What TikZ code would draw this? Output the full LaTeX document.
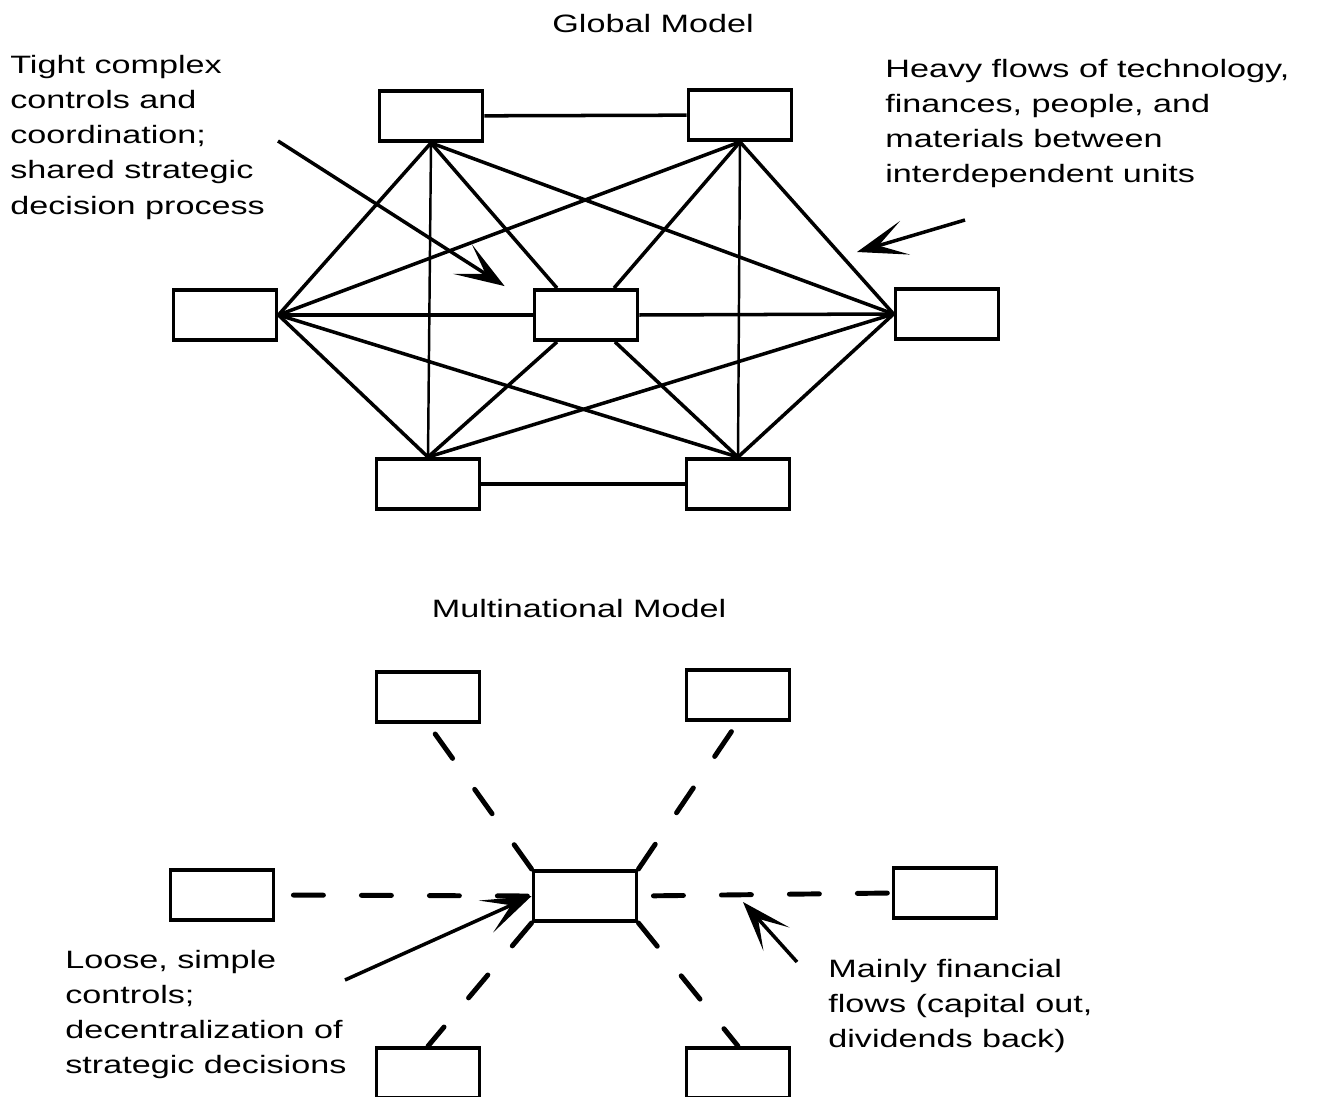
\documentclass[tikz,border=0pt]{standalone}
\usepackage{fontspec}
\setmainfont[FakeStretch=1.36]{Liberation Sans}
\usetikzlibrary{arrows.meta, positioning, calc}

\begin{document}
\begin{tikzpicture}[x=0.02cm, y=-0.02cm,
  unit/.style={draw, line width=2.2pt, fill=white, inner sep=0pt,
               minimum width=2.06cm, minimum height=1cm},
  link/.style={line width=2pt},
  vlink/.style={line width=1.4pt},
  flow/.style={line width=2.8pt, line cap=round,
               dash pattern=on 0.6cm off 0.76cm},
  pointer/.style={line width=2pt,
                  -{Stealth[length=1cm, width=0.7cm, inset=0.55cm]}},
  note/.style={anchor=north west, inner sep=0pt, align=left,
               font=\fontsize{14.3}{20}\selectfont},
  heading/.style={anchor=base, inner sep=0pt,
                  font=\fontsize{14.3}{20}\selectfont}]

\useasboundingbox (0,0) rectangle (1317,1097);

% Global model
\node[heading] (gtitle) at (653,33) {Global Model};
\node[unit] (gtl) at (431,116) {};
\node[unit] (gtr) at (740,115) {};
\node[unit] (gl)  at (225,315) {};
\node[unit] (gc)  at (586,315) {};
\node[unit] (gr)  at (947,314) {};
\node[unit] (gbl) at (428,484) {};
\node[unit] (gbr) at (738,484) {};

\coordinate (gcn1) at ($(gc.north)+(-29,0)$);
\coordinate (gcn2) at ($(gc.north)+(28,0)$);
\coordinate (gcs1) at ($(gc.south)+(-29,0)$);
\coordinate (gcs2) at ($(gc.south)+(29,0)$);

\draw[link] (gtl) -- (gtr);
\draw[link] (gbl) -- (gbr);
\draw[link] (gl.east) -- (gc.west);
\draw[link] (gc.east) -- (gr.west);
\foreach \a/\b in {gtl.south/gl.east, gtl.south/gcn1, gtl.south/gr.west,
                   gtr.south/gl.east, gtr.south/gcn2, gtr.south/gr.west,
                   gbl.north/gl.east, gbl.north/gcs1, gbl.north/gr.west,
                   gbr.north/gl.east, gbr.north/gcs2, gbr.north/gr.west}
  \draw[link] (\a) -- (\b);
\draw[vlink] (gtl.south) -- (gbl.north);
\draw[vlink] (gtr.south) -- (gbr.north);

\node[note] (tightnote) at (10,55) {Tight complex\\controls and\\coordination;\\shared strategic\\decision process};
\node[note] (heavynote) at (885,59) {Heavy flows of technology,\\finances, people, and\\materials between\\interdependent units};

\coordinate (tightfrom) at (278,141);
\coordinate (tightto) at ($(gc.north west)+(-28,-2)$);
\draw[pointer] (tightfrom) -- (tightto);
\coordinate (heavyfrom) at (965,220);
\coordinate (heavyto) at (857,252);
\draw[pointer] (heavyfrom) -- (heavyto);

% Multinational model
\node[heading] (mtitle) at (579,617) {Multinational Model};
\node[unit] (mtl) at (428,697) {};
\node[unit] (mtr) at (738,695) {};
\node[unit] (ml)  at (222,895) {};
\node[unit] (mc)  at (585,896) {};
\node[unit] (mr)  at (945,893) {};
\node[unit] (mbl) at (428,1073) {};
\node[unit] (mbr) at (738,1073) {};

\draw[flow] (mc.north west) -- (mtl.south);
\draw[flow] (mc.north east) -- (mtr.south);
\draw[flow] (mc.south west) -- (mbl.north);
\draw[flow] (mc.south east) -- (mbr.north);
\draw[flow, dash phase=1cm] (ml.east) -- (mc.west);
\draw[flow, dash phase=1.06cm] (mc.east) -- (mr.west);

\node[note] (loosenote) at (65,950) {Loose, simple\\controls;\\decentralization of\\strategic decisions};
\node[note] (mainlynote) at (828,959) {Mainly financial\\flows (capital out,\\dividends back)};

\coordinate (loosefrom) at (345,980);
\draw[pointer] (loosefrom) -- (mc.west);
\coordinate (mainlyfrom) at (797,962);
\coordinate (mainlyto) at (743,902);
\draw[pointer] (mainlyfrom) -- (mainlyto);
\end{tikzpicture}
\end{document}
